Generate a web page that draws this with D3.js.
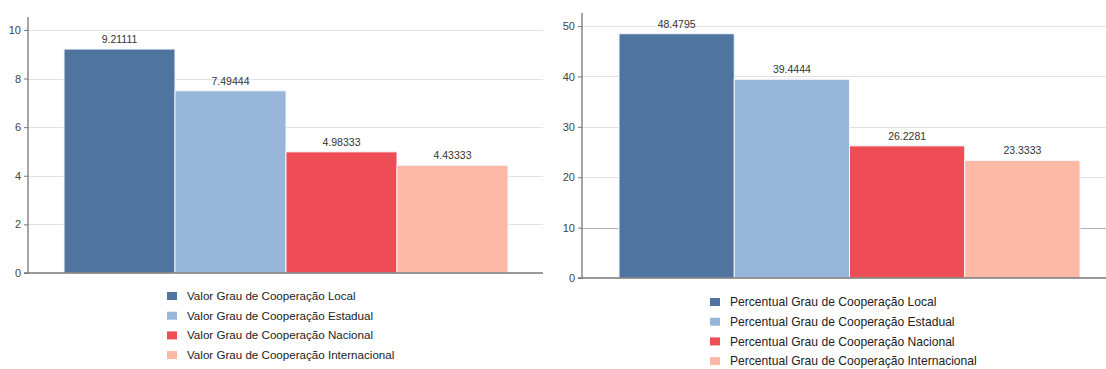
<!DOCTYPE html>
<html><head><meta charset="utf-8">
<script src="https://cdn.jsdelivr.net/npm/d3@7"></script>
<style>body{margin:0;background:#fff;}svg{display:block;font-family:"Liberation Sans",Arial,sans-serif;}</style>
</head><body>
<svg id="c" width="1106" height="369"></svg>
<script>
const categories = ["Local", "Estadual", "Nacional", "Internacional"];
const colors = ["#4F74A0", "#97B6D9", "#EE4D55", "#FDB9A6"];
const valorValues = [9.21111, 7.49444, 4.98333, 4.43333];
const valorLabels = ["9.21111", "7.49444", "4.98333", "4.43333"];
const percValues = [48.4795, 39.4444, 26.2281, 23.3333];
const percLabels = ["48.4795", "39.4444", "26.2281", "23.3333"];
const valorTicks = [0, 2, 4, 6, 8, 10];
const percTicks = [0, 10, 20, 30, 40, 50];
const valorLegend = categories.map(c => "Valor Grau de Cooperação " + c);
const percLegend = categories.map(c => "Percentual Grau de Cooperação " + c);

const svg = d3.select("#c");

function drawChart(cfg) {
  const g = svg.append("g");
  const y = d3.scaleLinear().domain([0, cfg.ymax]).range([cfg.y0, cfg.ytop]);
  const x = d3.scaleBand().domain(categories).range([cfg.bx0, cfg.bx1]).padding(0);

  // gridlines
  g.append("g").selectAll("line").data(cfg.ticks.filter(t => t > 0)).join("line")
    .attr("x1", cfg.ax).attr("x2", cfg.ax1)
    .attr("y1", d => Math.round(y(d)) + 0.5).attr("y2", d => Math.round(y(d)) + 0.5)
    .attr("stroke", d => cfg.darkTick === d ? "#b0b0b0" : "#e2e2e2").attr("stroke-width", 1);

  // bars
  g.append("g").selectAll("rect").data(cfg.values).join("rect")
    .attr("x", (d, i) => x(categories[i]))
    .attr("width", x.bandwidth())
    .attr("y", d => y(d))
    .attr("height", d => cfg.y0 - y(d))
    .attr("fill", (d, i) => colors[i])
    .attr("stroke", "#f4f6fa").attr("stroke-width", 1);

  // value labels
  g.append("g").selectAll("text").data(cfg.values).join("text")
    .attr("x", (d, i) => x(categories[i]) + x.bandwidth() / 2)
    .attr("y", d => y(d) - 6)
    .attr("text-anchor", "middle")
    .attr("font-size", cfg.labelSize)
    .attr("fill", "#333")
    .text((d, i) => cfg.labels[i]);

  // y axis
  const yAxis = d3.axisLeft(y).tickValues(cfg.ticks).tickSize(4).tickPadding(3).tickFormat(d3.format("d"));
  const ya = g.append("g").attr("transform", `translate(${cfg.ax},0)`).call(yAxis);
  ya.select(".domain").attr("stroke", "#777").attr("stroke-width", 1.3).attr("d", `M-4,${cfg.y0}H0V${cfg.ytop}`);
  ya.selectAll(".tick line").attr("stroke", "#777");
  ya.selectAll(".tick text").attr("fill", "#444").attr("font-size", cfg.tickSize)
    .attr("font-family", "Liberation Sans, Arial, sans-serif");

  // x axis baseline
  const xAxis = d3.axisBottom(x).tickSize(0).tickFormat("");
  const xa = g.append("g").attr("transform", `translate(0,${cfg.y0})`).call(xAxis);
  xa.select(".domain").attr("stroke", "#777").attr("stroke-width", 1.3).attr("d", `M${cfg.ax},0H${cfg.ax1}`);

  // legend
  const lg = g.append("g");
  cfg.legend.forEach((t, i) => {
    const yy = cfg.legY + i * cfg.legStep;
    lg.append("rect").attr("x", cfg.legX).attr("y", yy - 4).attr("width", 10).attr("height", 8).attr("fill", colors[i]);
    lg.append("text").attr("x", cfg.legX + 20).attr("y", yy).attr("dy", "0.35em")
      .attr("font-size", cfg.legSize).attr("fill", "#222").text(t);
  });
}

drawChart({
  values: valorValues, labels: valorLabels, ticks: valorTicks, ymax: 10.53,
  y0: 273, ytop: 17, ax: 28, ax1: 543, bx0: 64, bx1: 508,
  labelSize: 10.5, tickSize: 11, legend: valorLegend, legX: 167, legY: 296, legStep: 19.7, legSize: 11.6
});
drawChart({
  values: percValues, labels: percLabels, ticks: percTicks, ymax: 52.6, darkTick: 10,
  y0: 278, ytop: 13, ax: 582, ax1: 1106, bx0: 619, bx1: 1080,
  labelSize: 10.5, tickSize: 11, legend: percLegend, legX: 710, legY: 302, legStep: 19.7, legSize: 12.1
});
</script>
</body></html>
